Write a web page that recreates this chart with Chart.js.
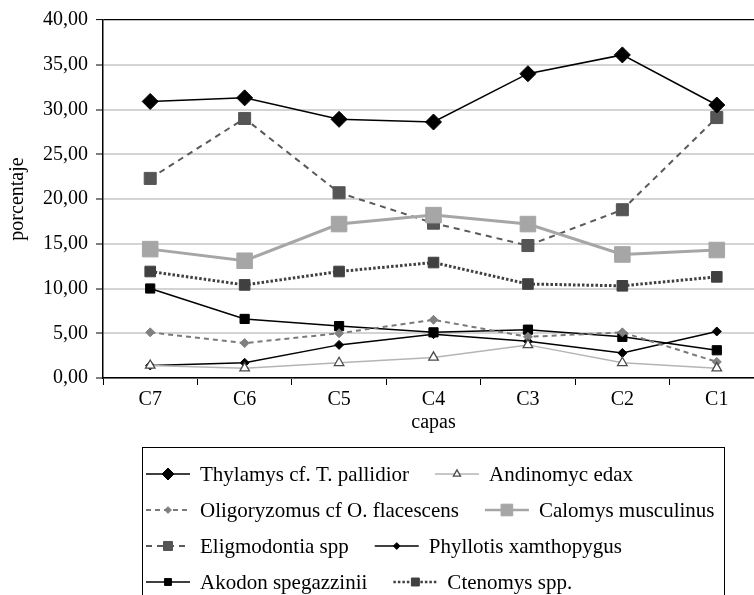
<!DOCTYPE html>
<html>
<head>
<meta charset="utf-8">
<script src="https://cdn.jsdelivr.net/npm/chart.js@4"></script>
<style>
html,body{margin:0;padding:0;background:#fff;overflow:hidden}
#wrap{width:754px;height:595px;overflow:hidden}
</style>
</head>
<body>
<div id="wrap"><canvas id="chart" width="780" height="595"></canvas></div>
<script>
const capas=["C7","C6","C5","C4","C3","C2","C1"]
const yTicks=[0,5,10,15,20,25,30,35,40]

const thylamys=[30.9,31.3,28.9,28.6,34.0,36.1,30.5]
const andinomyc=[1.4,1.1,1.7,2.3,3.7,1.7,1.1]
const oligoryzomus=[5.1,3.9,5.0,6.5,4.6,5.1,1.8]
const calomys=[14.4,13.1,17.2,18.2,17.2,13.8,14.3]
const eligmodontia=[22.3,29.0,20.7,17.3,14.8,18.8,29.1]
const phyllotis=[1.4,1.7,3.7,4.9,4.1,2.8,5.2]
const akodon=[10.0,6.6,5.8,5.1,5.4,4.6,3.1]
const ctenomys=[11.9,10.4,11.9,12.9,10.5,10.3,11.3]

const serif="'Liberation Serif','DejaVu Serif',serif"

function serie(label,data,color,width,dash,style,radius,fill){
return{
label:label,
data:data,
borderColor:color,
borderWidth:width,
borderDash:dash,
pointStyle:style,
pointRadius:radius,
pointBackgroundColor:fill,
pointBorderColor:style=="triangle"?"#4a4a4a":fill,
pointBorderWidth:style=="triangle"?1.3:1,
tension:0
}
}

const datasets=[
serie("Thylamys cf. T. pallidior",thylamys,"#000",1.5,[],"rectRot",8,"#000"),
serie("Andinomyc edax",andinomyc,"#b5b5b5",1.5,[],"triangle",5.5,"#fff"),
serie("Oligoryzomus cf O. flacescens",oligoryzomus,"#7a7a7a",2,[5,4],"rectRot",4.5,"#808080"),
serie("Calomys musculinus",calomys,"#a6a6a6",3,[],"rect",11,"#a6a6a6"),
serie("Eligmodontia spp",eligmodontia,"#5a5a5a",2,[6,5],"rect",8.5,"#555"),
serie("Phyllotis xamthopygus",phyllotis,"#000",1.5,[],"rectRot",4.5,"#000"),
serie("Akodon spegazzinii",akodon,"#000",1.5,[],"rect",6.5,"#000"),
serie("Ctenomys spp.",ctenomys,"#404040",3,[2.5,2],"rect",7.5,"#404040")
]

// legend drawn on the canvas, two items per row inside a box
const boxLegend={
id:"boxLegend",
afterDraw(chart){
const ctx=chart.ctx
const rows=[[0,1],[2,3],[4,5],[6,7]]
const rowY=[474,510,546,582]
ctx.save()
ctx.strokeStyle="#000"
ctx.lineWidth=1
ctx.strokeRect(142.5,447.5,582,150)
ctx.font="21px "+serif
ctx.textBaseline="middle"
ctx.fillStyle="#000"
rows.forEach((row,r)=>{
let x=146
const y=rowY[r]
row.forEach(i=>{
const ds=chart.data.datasets[i]
ctx.save()
ctx.strokeStyle=ds.borderColor
ctx.lineWidth=Math.min(ds.borderWidth,2.5)
ctx.setLineDash(ds.borderDash)
ctx.beginPath()
ctx.moveTo(x,y)
ctx.lineTo(x+44,y)
ctx.stroke()
ctx.setLineDash([])
ctx.fillStyle=ds.pointBackgroundColor
ctx.strokeStyle=ds.pointBorderColor
ctx.lineWidth=ds.pointBorderWidth
Chart.helpers.drawPoint(ctx,{pointStyle:ds.pointStyle,radius:ds.pointRadius*0.75,rotation:0,borderWidth:ds.pointBorderWidth},x+22,y)
ctx.restore()
ctx.fillStyle="#000"
ctx.fillText(ds.label,x+54,y+1)
x=x+54+ctx.measureText(ds.label).width+26
})
})
ctx.restore()
}
}

new Chart(document.getElementById("chart"),{
type:"line",
data:{labels:capas,datasets:datasets},
plugins:[boxLegend],
options:{
responsive:false,
animation:false,
layout:{padding:{top:12,left:6,right:16,bottom:160}},
plugins:{legend:{display:false},tooltip:{enabled:false}},
scales:{
x:{
offset:true,
grid:{offset:true,drawOnChartArea:false,tickLength:7,tickColor:"#000",tickWidth:1},
border:{color:"#000",width:1.5},
ticks:{color:"#000",font:{family:serif,size:20},padding:3},
title:{display:true,text:"capas",color:"#000",font:{family:serif,size:20},padding:{top:-4,bottom:0}}
},
y:{
min:0,
max:40,
afterBuildTicks(axis){axis.ticks=yTicks.map(v=>({value:v}))},
grid:{color:c=>c.tick&&c.tick.value==40?"#000":"#d4d4d4",lineWidth:c=>c.tick&&c.tick.value==40?1.2:2,tickLength:7,tickColor:"#000",tickWidth:1},
border:{color:"#000",width:1.5},
ticks:{color:"#000",font:{family:serif,size:20},padding:8,callback:v=>v.toFixed(2).replace(".",",")},
title:{display:true,text:"porcentaje",color:"#000",font:{family:serif,size:20},padding:{top:0,bottom:5}}
}
}
}
})
</script>
</body>
</html>
